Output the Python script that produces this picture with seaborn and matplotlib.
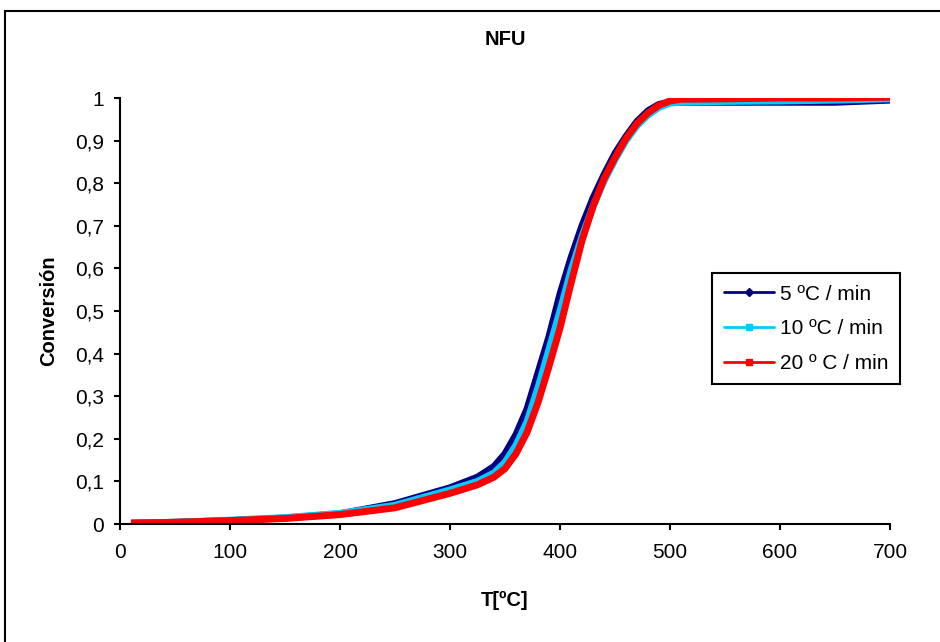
import matplotlib
matplotlib.use("Agg")
import matplotlib.pyplot as plt
import matplotlib.ticker as mticker
import pandas as pd
import seaborn as sns
from matplotlib.patches import Rectangle

temps = [10, 50, 100, 150, 200, 250, 300, 325, 340, 350, 360, 370, 380, 390, 400,
         410, 420, 430, 440, 450, 460, 470, 480, 490, 500, 510, 550, 600, 650, 700]

conv_5 = [0.002, 0.004, 0.008, 0.014, 0.024, 0.048, 0.085, 0.110, 0.135, 0.165,
          0.21, 0.27, 0.355, 0.44, 0.54, 0.625, 0.70, 0.765, 0.82, 0.87,
          0.91, 0.945, 0.97, 0.985, 0.99, 0.99, 0.99, 0.99, 0.99, 0.995]
conv_10 = [0.002, 0.004, 0.009, 0.015, 0.025, 0.044, 0.080, 0.100, 0.120, 0.145,
           0.185, 0.24, 0.32, 0.41, 0.50, 0.595, 0.675, 0.745, 0.805, 0.855,
           0.90, 0.935, 0.96, 0.978, 0.988, 0.99, 0.992, 0.993, 0.995, 0.998]
conv_20 = [0.002, 0.004, 0.008, 0.013, 0.022, 0.038, 0.072, 0.092, 0.110, 0.130,
           0.165, 0.215, 0.285, 0.37, 0.46, 0.565, 0.665, 0.745, 0.81, 0.86,
           0.905, 0.94, 0.965, 0.983, 0.993, 0.997, 0.998, 1.0, 1.0, 1.002]

labels = ["5 ºC / min", "10 ºC / min", "20 º C / min"]
colors = ["#000080", "#00CCFF", "#FF0000"]
markers = ["D", "s", "s"]

df = pd.concat([
    pd.DataFrame({"T": temps, "conv": c, "serie": lab})
    for c, lab in zip([conv_5, conv_10, conv_20], labels)
])

sns.set_style("white")
plt.rcParams["font.family"] = ["Liberation Sans", "DejaVu Sans"]
plt.rcParams["text.color"] = "black"
plt.rcParams["axes.labelcolor"] = "black"
plt.rcParams["xtick.color"] = "black"
plt.rcParams["ytick.color"] = "black"

fig = plt.figure(figsize=(9.4, 6.42), dpi=100)
ax = fig.add_axes([120 / 940, 1 - 524 / 642, 770 / 940, 426 / 642])

for lab, col in zip(labels, colors):
    sns.lineplot(data=df[df["serie"] == lab], x="T", y="conv", color=col,
                 linewidth=5, ax=ax, legend=False, solid_capstyle="butt")

ax.set_xlim(0, 700)
ax.set_ylim(0, 1)
ax.set_xticks(range(0, 701, 100))
ax.set_yticks([i / 10 for i in range(11)])
ax.yaxis.set_major_formatter(mticker.FuncFormatter(
    lambda v, p: ("%g" % round(v, 1)).replace(".", ",")))
for s in ["top", "right"]:
    ax.spines[s].set_visible(False)
for s in ["left", "bottom"]:
    ax.spines[s].set_color("black")
    ax.spines[s].set_linewidth(1.5)
ax.tick_params(axis="both", direction="out", length=4.5, width=1.5, color="black",
               labelsize=15, left=True, bottom=True)
ax.tick_params(axis="y", pad=7)
ax.tick_params(axis="x", pad=9)

ax.set_xlabel("T[ºC]", fontsize=14.5, fontweight="bold", labelpad=21)
ax.set_ylabel("Conversión", fontsize=14.5, fontweight="bold", labelpad=12)
ax.set_title("NFU", fontsize=14.5, fontweight="bold", pad=38)

handles = [plt.Line2D([], [], color=c, linewidth=2, marker=m, markersize=4)
           for c, m in zip(colors, markers)]
leg = ax.legend(handles, labels, loc="upper left", bbox_to_anchor=(0.769, 0.589),
                frameon=True, fancybox=False, framealpha=1, fontsize=15,
                handlelength=2.4, borderpad=0.55, labelspacing=0.75,
                handletextpad=0.3, borderaxespad=0)
leg.get_frame().set_edgecolor("black")
leg.get_frame().set_linewidth(1.5)

fig.patches.append(Rectangle((5 / 940, -0.1), 1.1, 1 - 11 / 642 + 0.1,
                             transform=fig.transFigure, fill=False,
                             edgecolor="black", linewidth=1.5))

fig.savefig("out.png", dpi=100)
